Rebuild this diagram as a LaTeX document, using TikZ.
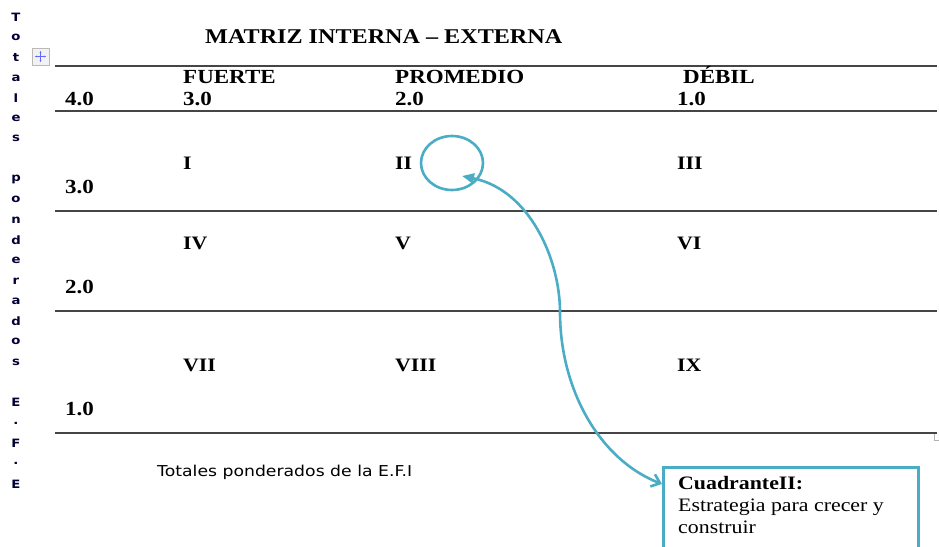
\documentclass[tikz,border=0pt]{standalone}
\usepackage{fontspec}
\setmainfont{Liberation Serif}[FakeStretch=1.15]
\newfontfamily\sansletra{DejaVu Sans}[FakeStretch=1.15]
\usetikzlibrary{arrows.meta,shapes.geometric}
\definecolor{azulverde}{HTML}{4BACC6}
\definecolor{gristabla}{HTML}{454545}
\tikzset{
  encabezado/.style={anchor=base west, inner sep=0pt, font=\fontsize{20}{24}\selectfont\bfseries},
  romano/.style={anchor=base west, inner sep=0pt, font=\fontsize{19}{22}\selectfont\bfseries},
  cajatexto/.style={anchor=base west, inner sep=0pt, font=\fontsize{19}{22}\selectfont},
  vertletra/.style={inner sep=0pt, text=black!80!blue, font=\sansletra\fontsize{11.5}{13}\selectfont\bfseries},
  regla/.style={gristabla, line width=1.8pt},
  marcaazul/.style={azulverde, line width=2.6pt},
}
\begin{document}
\begin{tikzpicture}[x=1pt, y=-1pt]
	\useasboundingbox (0,0) rectangle (939,546);
	\clip (0,0) rectangle (939,546);
	% titulo
	\node[encabezado, font=\fontsize{21}{24}\selectfont\bfseries] (titulo) at (205,43) {MATRIZ INTERNA – EXTERNA};
	% reglas de la tabla
	\draw[regla] (55,66) -- (937,66);
	\draw[regla, line width=2.3pt] (55,111) -- (937,111);
	\foreach \y in {211,311,433}
		\draw[regla] (55,\y) -- (937,\y);
	\draw[gray!60, line width=0.8pt] (934.5,434) -- (934.5,440) -- (938.5,440);
	% asa de la tabla
	\draw[gray!55, fill=gray!10] (32,48) rectangle (49,65);
	\draw[blue!60, line width=0.9pt, {Latex[length=2.5pt]}-{Latex[length=2.5pt]}] (34.5,56.5) -- (46.5,56.5);
	\draw[blue!60, line width=0.9pt, {Latex[length=2.5pt]}-{Latex[length=2.5pt]}] (40.5,50.5) -- (40.5,62.5);
	% encabezados
	\node[encabezado] (fuerte) at (183,83) {FUERTE};
	\node[encabezado] (promedio) at (395,83) {PROMEDIO};
	\node[encabezado] (debil) at (683,83) {DÉBIL};
	\node[encabezado] (v40) at (65,105) {4.0};
	\node[encabezado] (c30) at (183,105) {3.0};
	\node[encabezado] (c20) at (395,105) {2.0};
	\node[encabezado] (c10) at (677,105) {1.0};
	\node[encabezado] (v30) at (65,193) {3.0};
	\node[encabezado] (v20) at (65,293) {2.0};
	\node[encabezado] (v10) at (65,415) {1.0};
	% cuadrantes
	\node[romano] (q1) at (183,169) {I};
	\node[romano] (q2) at (395,169) {II};
	\node[romano] (q3) at (677,169) {III};
	\node[romano] (q4) at (183,249) {IV};
	\node[romano] (q5) at (395,249) {V};
	\node[romano] (q6) at (677,249) {VI};
	\node[romano] (q7) at (183,371) {VII};
	\node[romano] (q8) at (395,371) {VIII};
	\node[romano] (q9) at (677,371) {IX};
	% texto vertical
	\foreach \letra [count=\i from 0] in {T,o,t,a,l,e,s}
		\node[vertletra] (t\i) at (16,17+20.3*\i) {\letra};
	\foreach \letra [count=\i from 8] in {p,o,n,d,e,r,a,d,o,s}
		\node[vertletra] (p\i) at (16,17+20.3*\i) {\letra};
	\foreach \letra [count=\i from 19] in {E,.,F,.,E}
		\node[vertletra] (e\i) at (16,17+20.3*\i) {\letra};
	\node[anchor=base west, inner sep=0pt, font=\sansletra\fontsize{15}{18}\selectfont] (totales) at (157,476) {Totales ponderados de la E.F.I};
	% marca del cuadrante II
	\node[marcaazul, draw, ellipse, minimum width=62pt, minimum height=54pt, inner sep=0pt] (circulo) at (452,163) {};
	\coordinate (punta) at (462,176);
	\node[marcaazul, draw, fill=white, anchor=north west, minimum width=255pt, minimum height=110pt, inner sep=0pt] (cuadro) at (662,466) {};
	\coordinate (llegada) at ([yshift=-18pt]cuadro.north west);
	\draw[marcaazul, {Triangle[length=12pt,width=10pt]}-{Straight Barb[length=8pt,width=13pt]}]
		(punta) .. controls (530,190) and (560,260) .. (560,312)
		.. controls (560,390) and (600,460) .. (llegada);
	\node[cajatexto, font=\fontsize{19}{22}\selectfont\bfseries] (cuadrante) at (678,489) {CuadranteII:};
	\node[cajatexto] (estrategia) at (678,511) {Estrategia para crecer y};
	\node[cajatexto] (construir) at (678,533) {construir};
\end{tikzpicture}
\end{document}
